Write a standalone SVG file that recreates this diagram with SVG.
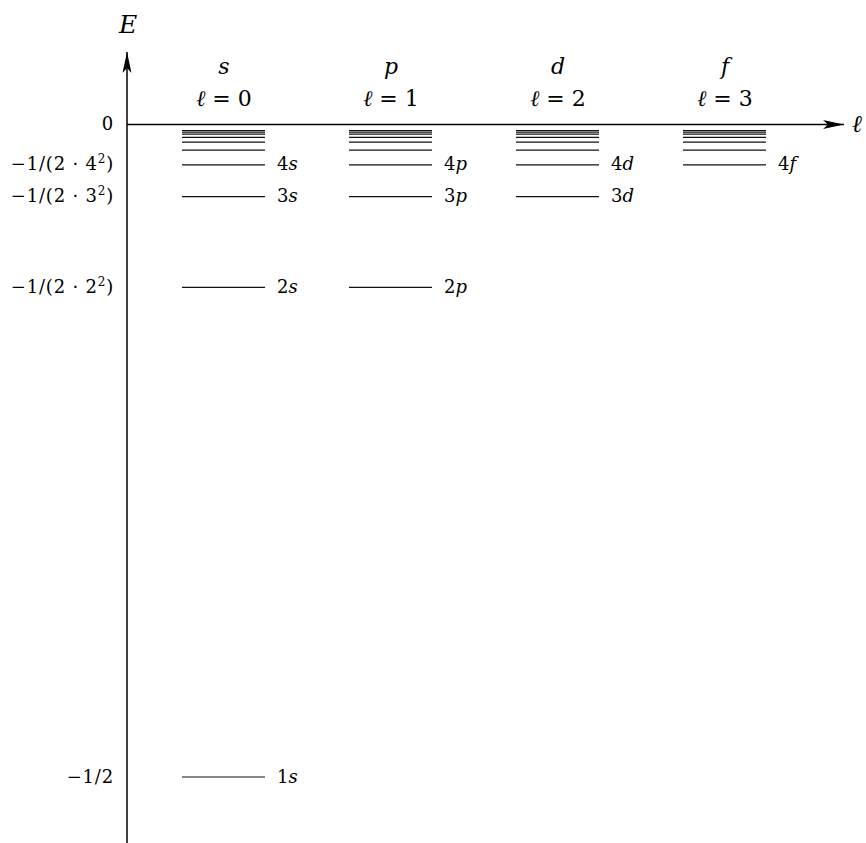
<svg xmlns="http://www.w3.org/2000/svg" width="866" height="843" viewBox="0 0 866 843" font-family="'DejaVu Serif',serif">
<style>
text{font-family:'DejaVu Serif',serif;fill:#000}
.it{font-style:italic}
.lab{font-size:18px}
.tick{font-size:18px;text-anchor:end;letter-spacing:0.8px}
.hdr{font-size:22px;text-anchor:middle}
.lvl{stroke:#111;stroke-width:1.2;fill:none}
.axis{stroke:#000;stroke-width:1.5;fill:none}
</style>
<defs>
<marker id="ah" markerWidth="24" markerHeight="12" refX="21" refY="6" orient="auto" markerUnits="userSpaceOnUse">
<path d="M0,1.5 L21,6 L0,10.5 L5,6 Z" fill="#000"/>
</marker>
<g id="cluster">
<line class="lvl" x1="0" y1="150.1" x2="83" y2="150.1"/>
<line class="lvl" x1="0" y1="142.1" x2="83" y2="142.1"/>
<line class="lvl" x1="0" y1="137.3" x2="83" y2="137.3"/>
<line class="lvl" x1="0" y1="134.2" x2="83" y2="134.2"/>
<line class="lvl" x1="0" y1="132.1" x2="83" y2="132.1"/>
<line class="lvl" x1="0" y1="130.5" x2="83" y2="130.5"/>
</g>
</defs>
<g id="connectors">
<line class="axis" x1="127" y1="843" x2="127" y2="52" marker-end="url(#ah)"/>
<line class="axis" x1="127" y1="124.5" x2="844" y2="124.5" marker-end="url(#ah)"/>
</g>
<g id="axis-labels">
<text class="it" x="128" y="33" font-size="25" text-anchor="middle">E</text>
<text class="it" x="852" y="132" font-size="24">ℓ</text>
<text class="tick" x="114" y="130">0</text>
<text class="tick" x="114" y="170">−1/(2 · 4<tspan font-size="12" dy="-7">2</tspan><tspan dy="7">)</tspan></text>
<text class="tick" x="114" y="202">−1/(2 · 3<tspan font-size="12" dy="-7">2</tspan><tspan dy="7">)</tspan></text>
<text class="tick" x="114" y="293">−1/(2 · 2<tspan font-size="12" dy="-7">2</tspan><tspan dy="7">)</tspan></text>
<text class="tick" x="114" y="783">−1/2</text>
</g>
<g id="col-s">
<text class="hdr it" x="224" y="74">s</text>
<text class="hdr" x="224" y="106"><tspan class="it">ℓ</tspan> = 0</text>
<use href="#cluster" x="182"/>
<line class="lvl" x1="182" y1="164.8" x2="265" y2="164.8"/>
<line class="lvl" x1="182" y1="196.6" x2="265" y2="196.6"/>
<line class="lvl" x1="182" y1="287.3" x2="265" y2="287.3"/>
<line class="lvl" x1="182" y1="777" x2="265" y2="777"/>
<text class="lab" x="277" y="170">4<tspan class="it">s</tspan></text>
<text class="lab" x="277" y="202">3<tspan class="it">s</tspan></text>
<text class="lab" x="277" y="293">2<tspan class="it">s</tspan></text>
<text class="lab" x="277" y="783">1<tspan class="it">s</tspan></text>
</g>
<g id="col-p">
<text class="hdr it" x="391" y="74">p</text>
<text class="hdr" x="391" y="106"><tspan class="it">ℓ</tspan> = 1</text>
<use href="#cluster" x="349"/>
<line class="lvl" x1="349" y1="164.8" x2="432" y2="164.8"/>
<line class="lvl" x1="349" y1="196.6" x2="432" y2="196.6"/>
<line class="lvl" x1="349" y1="287.3" x2="432" y2="287.3"/>
<text class="lab" x="444" y="170">4<tspan class="it">p</tspan></text>
<text class="lab" x="444" y="202">3<tspan class="it">p</tspan></text>
<text class="lab" x="444" y="293">2<tspan class="it">p</tspan></text>
</g>
<g id="col-d">
<text class="hdr it" x="558" y="74">d</text>
<text class="hdr" x="558" y="106"><tspan class="it">ℓ</tspan> = 2</text>
<use href="#cluster" x="516"/>
<line class="lvl" x1="516" y1="164.8" x2="599" y2="164.8"/>
<line class="lvl" x1="516" y1="196.6" x2="599" y2="196.6"/>
<text class="lab" x="611" y="170">4<tspan class="it">d</tspan></text>
<text class="lab" x="611" y="202">3<tspan class="it">d</tspan></text>
</g>
<g id="col-f">
<text class="hdr it" x="725" y="74">f</text>
<text class="hdr" x="725" y="106"><tspan class="it">ℓ</tspan> = 3</text>
<use href="#cluster" x="683"/>
<line class="lvl" x1="683" y1="164.8" x2="766" y2="164.8"/>
<text class="lab" x="778" y="170">4<tspan class="it">f</tspan></text>
</g>
</svg>
